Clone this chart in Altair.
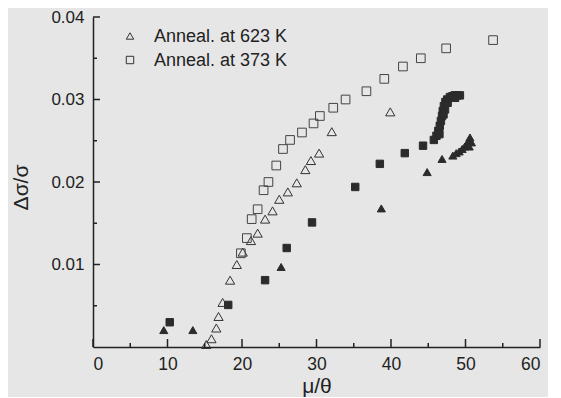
import altair as alt
import pandas as pd

# ---- data ----
S1 = "Anneal. at 623 K"
S2 = "Anneal. at 373 K"
S3 = "623 K (solid)"
S4 = "373 K (solid)"

open_tri_x = [15.2, 15.9, 16.55, 16.85, 17.4, 18.4, 19.3, 20.1, 21.2, 22.1, 23.1, 24.1,
              25.0, 26.15, 27.35, 28.5, 29.25, 30.35, 32.05, 39.9]
open_tri_y = [0.0003, 0.0010, 0.0023, 0.0037, 0.0054, 0.0081, 0.0100, 0.0115, 0.0129, 0.0138,
              0.0155, 0.0165, 0.0179, 0.0188, 0.0199, 0.0215, 0.0226, 0.0235, 0.0261, 0.0285]

open_sq_x = [19.85, 20.65, 21.3, 22.1, 22.9, 23.55, 24.6, 25.5, 26.45, 28.05, 29.6, 30.45,
             32.25, 33.9, 36.7, 39.1, 41.6, 44.0, 47.4, 53.7]
open_sq_y = [0.01136, 0.0132, 0.0155, 0.0167, 0.0190, 0.0200, 0.0220, 0.0240, 0.0251, 0.0260,
             0.0271, 0.0280, 0.0290, 0.0300, 0.0310, 0.0325, 0.0340, 0.0350, 0.0362, 0.0372]

solid_tri_x = [9.5, 13.4, 25.25, 38.7, 44.85, 46.85, 48.3, 48.75, 49.15, 49.55, 49.9, 50.2,
               50.4, 50.6, 50.8, 50.5]
solid_tri_y = [0.00205, 0.00205, 0.0097, 0.0168, 0.0212, 0.0228, 0.0232, 0.0235, 0.0237, 0.0240,
               0.0243, 0.0246, 0.0250, 0.0254, 0.0248, 0.0243]

solid_sq_x = [10.3, 18.15, 23.1, 26.0, 29.4, 35.2, 38.5, 41.85, 44.3, 45.75, 46.1, 46.35, 46.55,
              46.7, 46.85, 46.95, 47.1, 47.3, 47.55, 47.9, 48.25, 48.55, 48.9, 49.25,
              46.5, 47.05, 47.25, 47.6, 48.6]
solid_sq_y = [0.0030, 0.0051, 0.0081, 0.0120, 0.0151, 0.0194, 0.0222, 0.0235, 0.0244, 0.0251,
              0.0256, 0.0262, 0.0268, 0.0274, 0.0280, 0.0286, 0.0292, 0.0297, 0.0300, 0.0303,
              0.0304, 0.0305, 0.0305, 0.0305,
              0.0258, 0.0282, 0.0288, 0.0296, 0.0302]

x_major = [0, 10, 20, 30, 40, 50, 60]
x_minor = [5, 15, 25, 35, 45, 55]
y_major = [0.01, 0.02, 0.03, 0.04]
y_minor = [0.005, 0.015, 0.025, 0.035]

legend_labels = [S1, S2]

rows = []
for s, xs, ys in [(S3, solid_tri_x, solid_tri_y), (S4, solid_sq_x, solid_sq_y),
                  (S1, open_tri_x, open_tri_y), (S2, open_sq_x, open_sq_y)]:
    rows += [{"series": s, "mu": a, "ds": b} for a, b in zip(xs, ys)]
df = pd.DataFrame(rows)

W, H = 447, 330
FONT = "Liberation Sans"
INK = "#222222"
DARK = "#2b2b2b"

domain = [S1, S2, S3, S4]
shape_scale = alt.Scale(domain=domain, range=["triangle-up", "square", "triangle-up", "square"])
xscale = alt.Scale(domain=[0, 60], nice=False, zero=False)
yscale = alt.Scale(domain=[0, 0.04], nice=False)

xaxis = alt.Axis(values=x_major, ticks=False, grid=False, domainColor=INK, domainWidth=1.5,
                 labelFontSize=17.5, labelFont=FONT, labelColor=INK, labelPadding=8,
                 title="μ/θ", titleFontSize=21, titleFont=FONT, titleColor=INK,
                 titleFontWeight="normal", titlePadding=3)
yaxis = alt.Axis(values=y_major, format=".2f", ticks=False, grid=False, domainColor=INK,
                 domainWidth=1.5, labelFontSize=17, labelFont=FONT, labelColor=INK,
                 labelPadding=9, title="Δσ/σ", titleFontSize=21, titleFont=FONT,
                 titleColor=INK, titleFontWeight="normal", titlePadding=19, titleY=170)

points = alt.Chart(df).mark_point(strokeWidth=1, opacity=1).encode(
    x=alt.X("mu:Q", scale=xscale, axis=xaxis, title="μ/θ"),
    y=alt.Y("ds:Q", scale=yscale, axis=yaxis, title="Δσ/σ"),
    shape=alt.Shape("series:N", scale=shape_scale, legend=None),
    fill=alt.Fill("series:N",
                  scale=alt.Scale(domain=domain, range=["transparent", "transparent", DARK, DARK]),
                  legend=None),
    stroke=alt.Stroke("series:N",
                      scale=alt.Scale(domain=domain, range=["#333333", "#444444", DARK, DARK]),
                      legend=None),
    size=alt.Size("series:N", scale=alt.Scale(domain=domain, range=[85, 55, 75, 45]), legend=None),
)

def xticks(vals, length):
    return alt.Chart(pd.DataFrame({"v": vals})).mark_rule(color=INK, strokeWidth=1.5).encode(
        x=alt.X("v:Q", scale=xscale, axis=xaxis, title="μ/θ"), y=alt.value(H), y2=alt.value(H - length))

def yticks(vals, length):
    return alt.Chart(pd.DataFrame({"v": vals})).mark_rule(color=INK, strokeWidth=1.5).encode(
        y=alt.Y("v:Q", scale=yscale, axis=yaxis, title="Δσ/σ"), x=alt.value(0), x2=alt.value(length))

# manual legend (top-left of the plot area)
def legend_entry(label, shape, row_y):
    d = pd.DataFrame({"label": [label]})
    sym = alt.Chart(d).mark_point(shape=shape, size=55, filled=False, stroke="#333333",
                                  strokeWidth=1, opacity=1).encode(
        x=alt.value(37), y=alt.value(row_y))
    txt = alt.Chart(d).mark_text(align="left", baseline="middle", font=FONT, fontSize=18,
                                 color=INK).encode(
        x=alt.value(61), y=alt.value(row_y + 1), text="label:N")
    return sym + txt

chart = alt.layer(
    points, xticks(x_major, 8), xticks(x_minor, 4), yticks(y_major, 7), yticks(y_minor, 4),
    legend_entry(legend_labels[0], "triangle-up", 19),
    legend_entry(legend_labels[1], "square", 43),
).properties(
    width=W, height=H, background="#e6e6e6",
    autosize=alt.AutoSizeParams(type="none"),
    padding={"left": 85, "top": 9, "right": 8, "bottom": 50},
).configure_view(stroke=None)

chart.save("out.html", embed_options={"renderer": "svg", "actions": False})
